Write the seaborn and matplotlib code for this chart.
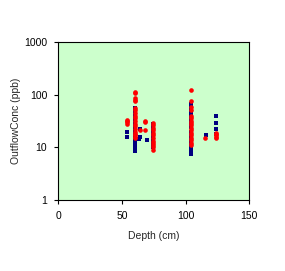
import matplotlib
matplotlib.use("Agg")
import matplotlib.pyplot as plt
import seaborn as sns
import pandas as pd
from matplotlib.ticker import FixedLocator, NullLocator, FixedFormatter

# Series A (navy squares)
blue_depth = [54, 54,
              60, 60, 60, 60, 60, 60, 60, 60, 60, 60, 60, 60, 60, 60, 60, 60, 60, 60, 60,
              64, 64, 63,
              70,
              74, 74, 74, 74, 74, 74, 74, 74, 74,
              104, 104, 104, 104, 104, 104, 104, 104, 104, 104, 104, 104, 104, 104, 104, 104, 104,
              116,
              124, 124, 124, 124]
blue_conc = [20, 16,
             8.5, 9, 10, 11, 12, 13, 14, 16, 18, 20, 22, 25, 28, 31, 35, 40, 45, 50, 56,
             22, 15.5, 14.5,
             14,
             10, 12, 14, 16, 18, 20, 23, 26, 28,
             7.5, 8, 9, 10, 12, 14, 16, 18, 20, 24, 28, 32, 38, 45, 52, 58, 65,
             17,
             40, 29, 22, 18]

# Series B (red dots)
red_depth = [54, 54, 54, 54,
             60, 60, 60, 60, 60, 60, 60, 60, 60, 60, 60, 60, 60, 60, 60, 60, 60, 60, 60,
             64,
             68, 68, 68,
             74, 74, 74, 74, 74, 74, 74, 74, 74, 74, 74, 74,
             104, 104, 104, 104, 104, 104, 104, 104, 104, 104, 104, 104, 104, 104, 104, 104, 104,
             115,
             124, 124, 124, 124, 124]
red_conc = [28, 30, 31, 33,
            15, 16, 17, 18, 20, 22, 25, 28, 32, 36, 40, 45, 50, 55, 75, 80, 88, 105, 110,
            21,
            30, 32, 21,
            9, 10, 11, 12, 13, 15, 17, 19, 21, 23, 26, 29,
            11, 12, 14, 15, 17, 19, 21, 23, 26, 29, 32, 36, 40, 50, 57, 75, 120,
            15,
            15, 16, 17, 18, 19]

sns.set_style("ticks")
plt.rcParams['font.family'] = ['Liberation Sans', 'DejaVu Sans']

fig = plt.figure(figsize=(2.85, 2.71), dpi=100)
ax = fig.add_axes([58.3 / 285, 1 - 200.3 / 271, 191 / 285, 158.6 / 271])
ax.set_facecolor("#CCFFCC")

dfb = pd.DataFrame({"Depth": blue_depth, "Conc": blue_conc})
dfr = pd.DataFrame({"Depth": red_depth, "Conc": red_conc})
sns.scatterplot(data=dfb, x="Depth", y="Conc", ax=ax, marker="s", color="#000080",
                s=9, linewidth=0, zorder=3)
sns.scatterplot(data=dfr, x="Depth", y="Conc", ax=ax, marker="o", color="#FF0000",
                s=11, linewidth=0, zorder=4)

ax.set_yscale("log")
ax.set_xlim(0, 150)
ax.set_ylim(1, 1000)
ax.set_xticks([0, 50, 100, 150])
ax.yaxis.set_major_locator(FixedLocator([1, 10, 100, 1000]))
ax.yaxis.set_major_formatter(FixedFormatter(["1", "10", "100", "1000"]))
ax.yaxis.set_minor_locator(NullLocator())
ax.tick_params(axis="both", direction="out", length=3, width=0.8, labelsize=7.5,
               colors="black")
ax.tick_params(axis="x", pad=5)
ax.tick_params(axis="y", pad=5)
for sp in ax.spines.values():
    sp.set_linewidth(0.8)
    sp.set_color("black")
ax.set_xlabel("Depth (cm)", fontsize=7.5, labelpad=7)
ax.set_ylabel("OutflowConc (ppb)", fontsize=7.5, labelpad=2)

fig.savefig("out.png", dpi=100, facecolor="white")
